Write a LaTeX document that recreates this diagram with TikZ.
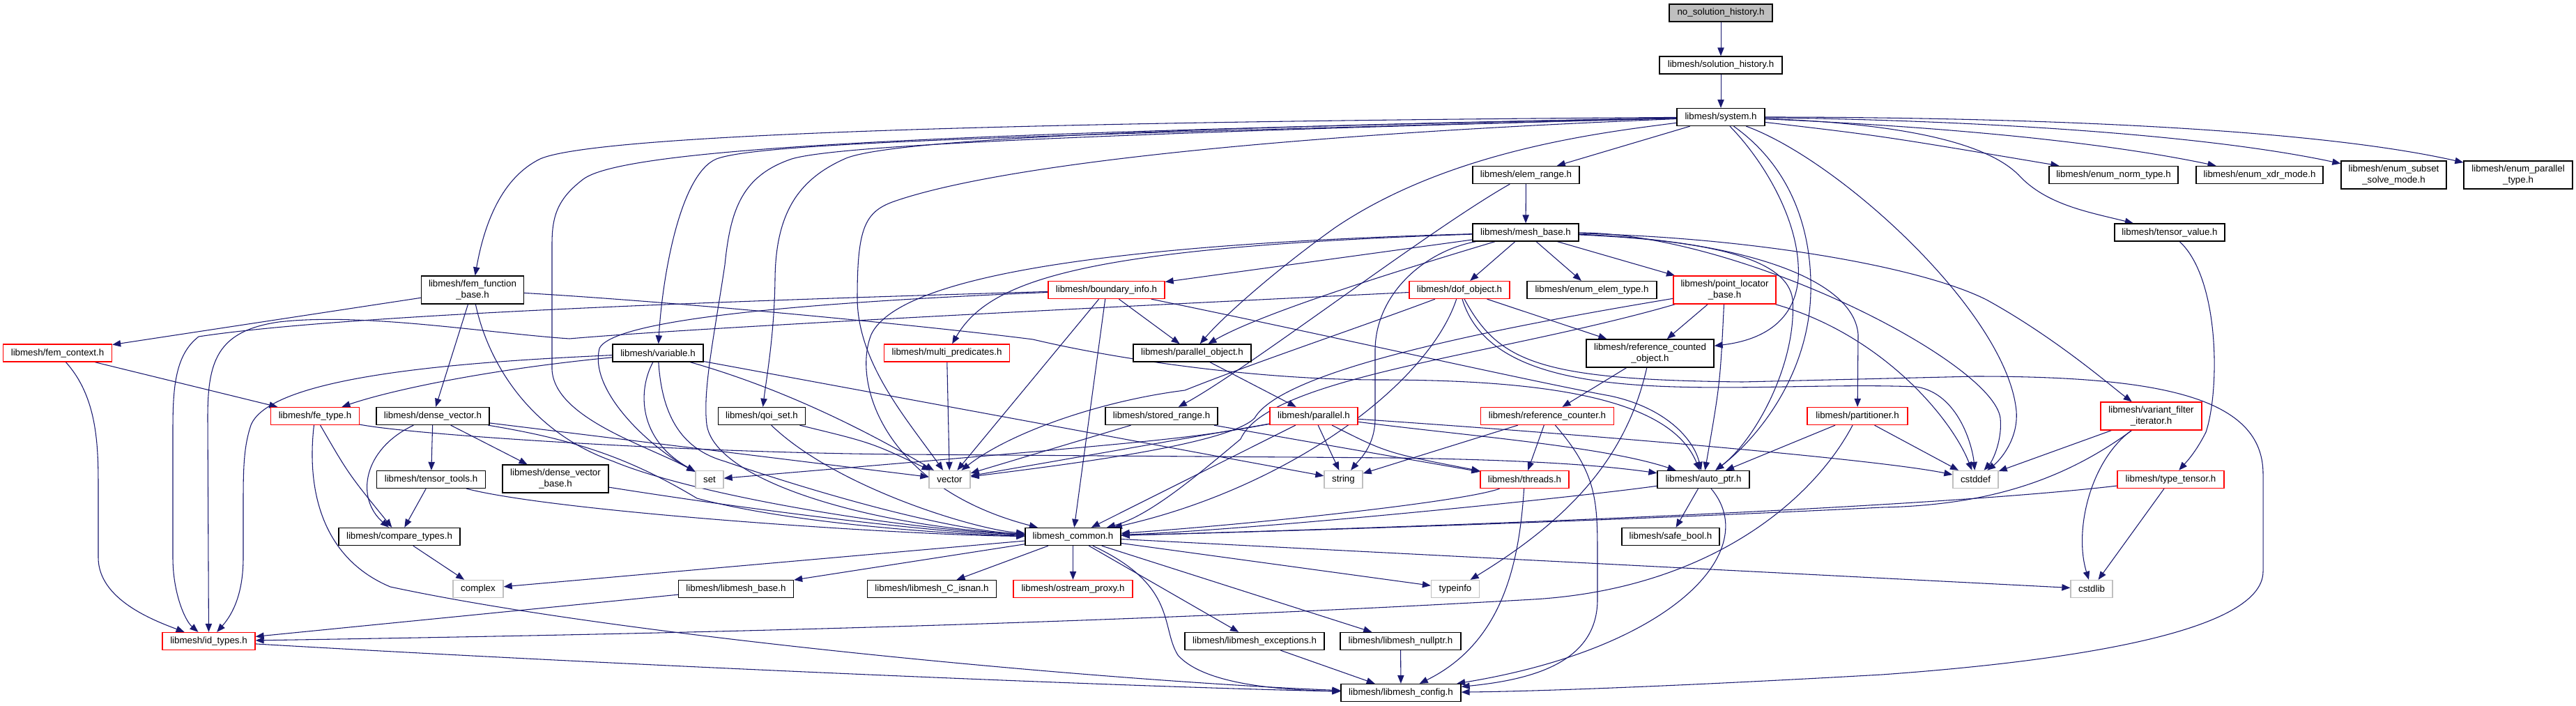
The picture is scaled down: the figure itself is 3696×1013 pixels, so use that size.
\documentclass[tikz,border=0pt]{standalone}
\usepackage{fontspec}
\setmainfont{Liberation Sans}
\usetikzlibrary{arrows.meta}
\definecolor{edgeblue}{HTML}{191970}
\definecolor{graybox}{HTML}{BFBFBF}
\pgfdeclarelayer{background}
\pgfsetlayers{background,main}
\begin{document}
\begin{tikzpicture}[x=0.75pt,y=-0.75pt,
  box/.style={draw, fill=white, line width=1pt, inner xsep=2pt, inner ysep=1pt, minimum height=18.75pt, font=\fontsize{10}{11.4}\selectfont, align=center},
  nd/.style={box, draw=black},
  rd/.style={box, draw=red},
  gy/.style={box, draw=graybox},
  rt/.style={box, draw=black, fill=graybox},
  bw/.style={minimum width=#1*0.75pt},
  tall/.style={minimum height=30pt},
  ed/.style={draw=edgeblue, line width=0.8pt, -{Triangle[length=9pt,width=7pt]}}
]
\useasboundingbox (0,0) rectangle (3696,1013);
% ---------- nodes ----------
\node[rt,bw=148] (nsh) at (2469,18.5) {no\_solution\_history.h};
\node[nd,bw=176] (sh) at (2469,93.5) {libmesh/solution\_history.h};
\node[nd,bw=126] (sys) at (2469,168) {libmesh/system.h};
\node[nd,bw=153] (er) at (2189.5,251) {libmesh/elem\_range.h};
\node[nd,bw=185] (enorm) at (3032.5,251) {libmesh/enum\_norm\_type.h};
\node[nd,bw=182] (exdr) at (3242,251) {libmesh/enum\_xdr\_mode.h};
\node[nd,bw=151,tall] (esub) at (3434.5,251) {libmesh/enum\_subset\\\_solve\_mode.h};
\node[nd,bw=156,tall] (epar) at (3613,251) {libmesh/enum\_parallel\\\_type.h};
\node[nd,bw=152] (mb) at (2189,333.5) {libmesh/mesh\_base.h};
\node[nd,bw=158] (tv) at (3113,333.5) {libmesh/tensor\_value.h};
\node[nd,bw=147,tall] (ffb) at (678,416) {libmesh/fem\_function\\\_base.h};
\node[rd,bw=167] (bi) at (1587.5,416) {libmesh/boundary\_info.h};
\node[rd,bw=144] (dof) at (2094,416) {libmesh/dof\_object.h};
\node[nd,bw=186] (eet) at (2284,416) {libmesh/enum\_elem\_type.h};
\node[rd,bw=147,tall] (plb) at (2474.5,416) {libmesh/point\_locator\\\_base.h};
\node[rd,bw=156] (fc) at (82.5,506.5) {libmesh/fem\_context.h};
\node[nd,bw=130] (var) at (944,506.5) {libmesh/variable.h};
\node[rd,bw=180] (mp) at (1358.5,506.5) {libmesh/multi\_predicates.h};
\node[nd,bw=169] (po) at (1710.5,506.5) {libmesh/parallel\_object.h};
\node[nd,bw=183,tall] (rco) at (2367.5,507) {libmesh/reference\_counted\\\_object.h};
\node[rd,bw=127] (fe) at (452,597) {libmesh/fe\_type.h};
\node[nd,bw=162] (dv) at (621,597) {libmesh/dense\_vector.h};
\node[nd,bw=125] (qoi) at (1093,597) {libmesh/qoi\_set.h};
\node[nd,bw=161] (sr) at (1666.5,597) {libmesh/stored\_range.h};
\node[rd,bw=126] (par) at (1885,597) {libmesh/parallel.h};
\node[rd,bw=191] (rc) at (2220,597) {libmesh/reference\_counter.h};
\node[rd,bw=144] (part) at (2665,597) {libmesh/partitioner.h};
\node[rd,bw=145,tall] (vfi) at (3086.5,597) {libmesh/variant\_filter\\\_iterator.h};
\node[nd,bw=156] (tt) at (618.5,688) {libmesh/tensor\_tools.h};
\node[nd,bw=152,tall] (dvb) at (797,687) {libmesh/dense\_vector\\\_base.h};
\node[gy,bw=40] (set) at (1018,688) {set};
\node[gy,bw=59] (vec) at (1362.5,688) {vector};
\node[gy,bw=55] (str) at (1927.5,688) {string};
\node[rd,bw=127] (thr) at (2187.5,688) {libmesh/threads.h};
\node[nd,bw=132] (ap) at (2444,688) {libmesh/auto\_ptr.h};
\node[gy,bw=65] (cdef) at (2834.5,688) {cstddef};
\node[rd,bw=153] (tten) at (3114.5,688) {libmesh/type\_tensor.h};
\node[nd,bw=174] (ct) at (573,770) {libmesh/compare\_types.h};
\node[nd,bw=137] (lc) at (1539.5,770) {libmesh\_common.h};
\node[nd,bw=140] (sb) at (2397,770) {libmesh/safe\_bool.h};
\node[gy,bw=72] (cplx) at (686,845) {complex};
\node[nd,bw=165] (lb) at (1056,845) {libmesh/libmesh\_base.h};
\node[nd,bw=185] (isnan) at (1337,845) {libmesh/libmesh\_C\_isnan.h};
\node[rd,bw=171] (op) at (1539.5,845) {libmesh/ostream\_proxy.h};
\node[gy,bw=69] (tinfo) at (2088,845) {typeinfo};
\node[gy,bw=60] (cstdlib) at (3001,845) {cstdlib};
\node[rd,bw=133] (id) at (299.5,920) {libmesh/id\_types.h};
\node[nd,bw=200] (exc) at (1800,920) {libmesh/libmesh\_exceptions.h};
\node[nd,bw=173] (np) at (2009.5,920) {libmesh/libmesh\_nullptr.h};
\node[nd,bw=172] (cfg) at (2010,994) {libmesh/libmesh\_config.h};
% ---------- edges ----------
\begin{pgfonlayer}{background}
\fill[white] (0,0) rectangle (3696,1013);
\draw[ed] (nsh) -- (sh);
\draw[ed] (sh) -- (sys);
% system.h
\draw[ed] (sys) -- (er);
\draw[ed] (sys) .. controls (2700,195) .. (enorm);
\draw[ed] (sys) .. controls (2750,180) and (3000,200) .. (exdr);
\draw[ed] (sys) .. controls (2800,172) and (3150,190) .. (esub);
\draw[ed] (sys) .. controls (2850,168) and (3300,180) .. (epar);
\draw[ed] (sys) .. controls (2750,178) and (2860,210) .. (2900,255) .. controls (2940,295) and (3000,305) .. (tv);
\draw[ed] (sys) .. controls (1400,175) and (850,195) .. (775,228) .. controls (720,255) and (695,320) .. (ffb);
\draw[ed] (sys) .. controls (1400,190) and (900,210) .. (837,257) .. controls (800,285) and (792,310) .. (792,350) -- (792,530) .. controls (795,600) and (930,640) .. (set);
\draw[ed] (sys) .. controls (1450,195) and (1090,205) .. (1028,228) .. controls (975,250) and (950,400) .. (var);
\draw[ed] (sys) .. controls (1450,195) and (1190,212) .. (1136,228) .. controls (1065,252) and (1048,300) .. (1040,380) .. controls (1025,480) and (1008,560) .. (1014,609) .. controls (1025,690) and (1250,755) .. (lc);
\draw[ed] (sys) .. controls (1550,185) and (1270,205) .. (1214,227) .. controls (1150,255) and (1113,300) .. (1112,400) .. controls (1111,480) and (1100,540) .. (qoi);
\draw[ed] (sys) .. controls (1800,195) and (1420,240) .. (1280,290) .. controls (1240,305) and (1230,330) .. (1230,427) .. controls (1230,520) and (1300,600) .. (vec);
\draw[ed] (sys) .. controls (2300,190) and (2080,215) .. (1915,327) .. controls (1820,395) and (1750,460) .. (po);
\draw[ed] (sys) .. controls (2530,230) and (2585,320) .. (2580,400) .. controls (2575,460) and (2530,488) .. (rco);
\draw[ed] (sys) .. controls (2570,240) and (2600,330) .. (2598,420) .. controls (2595,540) and (2520,630) .. (ap);
\draw[ed] (sys) .. controls (2640,230) and (2880,450) .. (2893,590) .. controls (2896,630) and (2870,660) .. (cdef);
% elem_range
\draw[ed] (er) -- (mb);
\draw[ed] (er) .. controls (2050,330) and (1790,530) .. (sr);
% mesh_base
\draw[ed] (mb) -- (bi);
\draw[ed] (mb) -- (dof);
\draw[ed] (mb) -- (eet);
\draw[ed] (mb) -- (plb);
\draw[ed] (mb) .. controls (1560,355) and (1420,400) .. (mp);
\draw[ed] (mb) .. controls (1950,405) and (1800,455) .. (po);
\draw[ed] (mb) .. controls (1600,350) and (1290,395) .. (1250,480) .. controls (1222,550) and (1270,700) .. (lc);
\draw[ed] (mb) .. controls (2045,360) and (1975,420) .. (1973,500) -- (1973,600) .. controls (1973,640) and (1950,660) .. (str);
\draw[ed] (mb) .. controls (2500,345) and (2660,400) .. (2666,480) -- (part);
\draw[ed] (mb) .. controls (2500,340) and (2750,380) .. (2850,430) .. controls (2950,485) and (3030,555) .. (vfi);
\draw[ed] (mb) .. controls (2450,345) and (2565,370) .. (2572,430) .. controls (2578,520) and (2520,630) .. (ap);
\draw[ed] (mb) .. controls (2500,335) and (2860,520) .. (2870,600) .. controls (2873,630) and (2860,660) .. (cdef);
% tensor_value
\draw[ed] (tv) .. controls (3185,400) and (3185,560) .. (3165,620) .. controls (3150,650) and (3135,665) .. (tten);
% fem_function_base
\draw[ed] (ffb) -- (fc);
\draw[ed] (ffb) -- (dv);
\draw[ed] (ffb) .. controls (700,520) and (760,620) .. (880,662) .. controls (1000,712) and (1300,760) .. (lc);
\draw[ed] (ffb) .. controls (1000,435) and (1350,470) .. (1482,487) .. controls (1600,515) and (1800,545) .. (1980,545) .. controls (2250,545) and (2400,580) .. (ap);
% boundary_info
\draw[ed] (bi) .. controls (1100,430) and (500,450) .. (285,483) .. controls (250,510) and (248,560) .. (248,620) -- (248,800) .. controls (248,850) and (265,890) .. (id);
\draw[ed] (bi) .. controls (1200,432) and (880,455) .. (860,500) .. controls (845,560) and (930,640) .. (set);
\draw[ed] (bi) -- (vec);
\draw[ed] (bi) -- (lc);
\draw[ed] (bi) -- (po);
\draw[ed] (bi) .. controls (1900,480) and (2200,548) .. (2310,568) .. controls (2390,585) and (2430,630) .. (ap);
% dof_object
\draw[ed] (dof) .. controls (1600,440) and (1000,470) .. (817,486) .. controls (700,478) and (520,448) .. (400,462) .. controls (310,475) and (298,520) .. (298,600) -- (id);
\draw[ed] (dof) .. controls (1950,470) and (1800,520) .. (1700,560) .. controls (1580,575) and (1450,620) .. (vec);
\draw[ed] (dof) .. controls (2050,550) and (1850,700) .. (lc);
\draw[ed] (dof) -- (rco);
\draw[ed] (dof) .. controls (2150,520) and (2210,545) .. (2500,548) -- (2833,540) .. controls (3100,540) and (3247,570) .. (3247,680) -- (3247,820) .. controls (3247,910) and (2950,950) .. (2700,968) .. controls (2400,985) and (2200,992) .. (cfg);
\draw[ed] (dof) .. controls (2150,600) and (2500,545) .. (2750,555) .. controls (2810,565) and (2830,640) .. (cdef);
% point_locator_base
\draw[ed] (plb) -- (rco);
\draw[ed] (plb) .. controls (2468,550) .. (ap);
\draw[ed] (plb) .. controls (2150,470) and (1840,530) .. (1800,600) .. controls (1760,640) and (1500,670) .. (vec);
\draw[ed] (plb) .. controls (2150,510) and (1820,540) .. (1780,630) .. controls (1720,680) and (1650,740) .. (lc);
\draw[ed] (plb) .. controls (2700,480) and (2800,600) .. (cdef);
% reference_counted_object
\draw[ed] (rco) -- (rc);
\draw[ed] (rco) .. controls (2335,650) and (2260,740) .. (tinfo);
% reference_counter
\draw[ed] (rc) -- (thr);
\draw[ed] (rc) -- (str);
\draw[ed] (rc) .. controls (2292,680) and (2292,720) .. (2292,800) -- (2292,860) .. controls (2292,950) and (2200,975) .. (cfg);
% threads
\draw[ed] (thr) .. controls (2100,720) and (1800,752) .. (lc);
\draw[ed] (thr) .. controls (2180,800) and (2160,920) .. (cfg);
% auto_ptr
\draw[ed] (ap) -- (sb);
\draw[ed] (ap) .. controls (2250,715) and (1800,760) .. (lc);
\draw[ed] (ap) .. controls (2530,790) and (2400,930) .. (cfg);
% partitioner
\draw[ed] (part) -- (ap);
\draw[ed] (part) -- (cdef);
\draw[ed] (part) .. controls (2600,720) and (2450,845) .. (2200,860) .. controls (1500,900) and (800,912) .. (id);
% variant_filter_iterator
\draw[ed] (vfi) -- (cdef);
\draw[ed] (vfi) .. controls (2960,690) and (2850,725) .. (2700,728) .. controls (2300,748) and (1850,762) .. (lc);
\draw[ed] (vfi) .. controls (3000,660) and (2975,760) .. (cstdlib);
% type_tensor
\draw[ed] (tten) .. controls (2800,725) and (2200,752) .. (lc);
\draw[ed] (tten) -- (cstdlib);
% fem_context
\draw[ed] (fc) -- (fe);
\draw[ed] (fc) .. controls (140,570) and (141,640) .. (141,700) -- (141,800) .. controls (141,860) and (220,890) .. (id);
% variable
\draw[ed] (var) .. controls (700,530) and (560,560) .. (fe);
\draw[ed] (var) .. controls (700,518) and (390,535) .. (360,610) .. controls (350,640) and (349,670) .. (349,720) -- (349,800) .. controls (349,850) and (335,880) .. (id);
\draw[ed] (var) .. controls (915,560) and (915,630) .. (set);
\draw[ed] (var) .. controls (950,600) and (980,645) .. (1040,662) .. controls (1150,700) and (1350,760) .. (lc);
\draw[ed] (var) .. controls (1150,565) and (1280,640) .. (vec);
\draw[ed] (var) -- (str);
% qoi_set
\draw[ed] (qoi) .. controls (1250,635) .. (vec);
\draw[ed] (qoi) .. controls (1200,700) and (1400,760) .. (lc);
% misc
\draw[ed] (mp) -- (vec);
\draw[ed] (po) -- (par);
\draw[ed] (sr) -- (vec);
\draw[ed] (sr) -- (thr);
% parallel
\draw[ed] (par) -- (vec);
\draw[ed] (par) .. controls (1700,630) .. (set);
\draw[ed] (par) -- (str);
\draw[ed] (par) -- (lc);
\draw[ed] (par) .. controls (1990,650) .. (thr);
\draw[ed] (par) .. controls (2100,625) and (2300,640) .. (ap);
\draw[ed] (par) .. controls (2300,625) and (2700,660) .. (cdef);
% dense_vector
\draw[ed] (dv) -- (dvb);
\draw[ed] (dv) -- (tt);
\draw[ed] (dv) .. controls (520,645) and (510,715) .. (ct);
\draw[ed] (dv) .. controls (820,630) and (900,655) .. (1000,715) .. controls (1150,755) and (1400,768) .. (lc);
\draw[ed] (dv) -- (vec);
% tensor_tools, dense_vector_base
\draw[ed] (tt) -- (ct);
\draw[ed] (tt) .. controls (800,735) and (1300,768) .. (lc);
\draw[ed] (dvb) .. controls (1100,735) and (1350,765) .. (lc);
\draw[ed] (ct) -- (cplx);
% fe_type
\draw[ed] (fe) .. controls (500,680) .. (ct);
\draw[ed] (fe) .. controls (440,700) and (460,800) .. (560,842) .. controls (900,915) and (1600,978) .. (cfg);
\draw[ed] (fe) .. controls (600,625) and (1000,650) .. (1300,652) -- (2000,657) .. controls (2200,660) and (2300,668) .. (ap);
% id_types, libmesh_base
\draw[ed] (id) .. controls (900,955) and (1600,985) .. (cfg);
\draw[ed] (lb) -- (id);
% libmesh_common
\draw[ed] (lc) -- (cplx);
\draw[ed] (lc) -- (lb);
\draw[ed] (lc) -- (isnan);
\draw[ed] (lc) -- (op);
\draw[ed] (lc) -- (exc);
\draw[ed] (lc) -- (np);
\draw[ed] (lc) .. controls (1690,840) and (1665,900) .. (1690,940) .. controls (1730,985) and (1850,990) .. (cfg);
\draw[ed] (lc) -- (tinfo);
\draw[ed] (lc) -- (cstdlib);
\draw[ed] (exc) -- (cfg);
\draw[ed] (np) -- (cfg);
\end{pgfonlayer}
\end{tikzpicture}
\end{document}
